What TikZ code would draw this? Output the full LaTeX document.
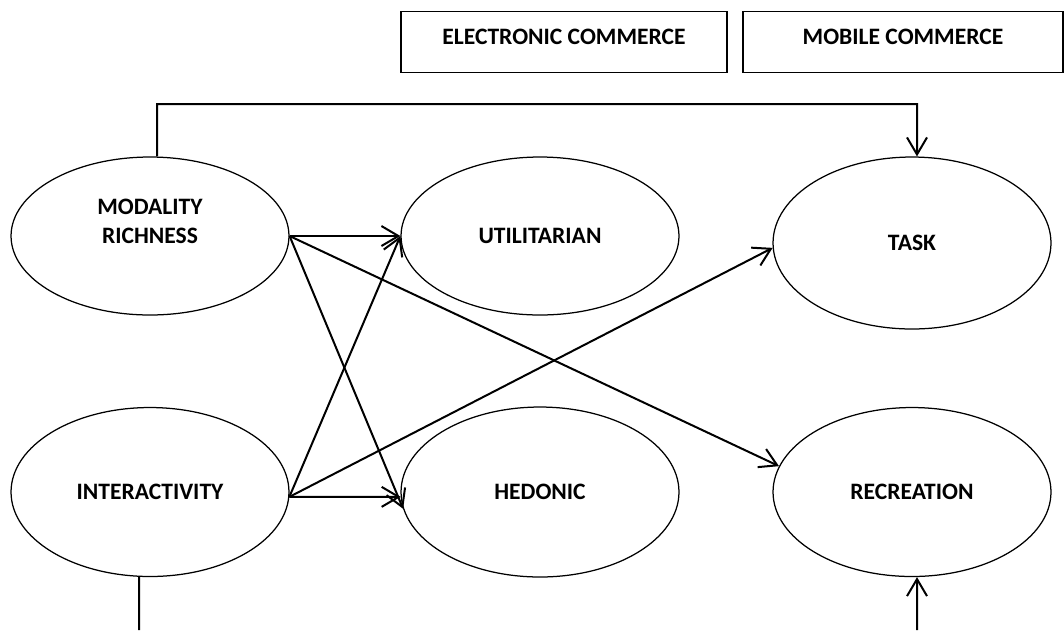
\documentclass[tikz,border=0pt]{standalone}
\usepackage{fontspec}
\setmainfont{Carlito}
\usepackage{tikz}
\usetikzlibrary{shapes.geometric}
\usetikzlibrary{arrows.meta}
\tikzstyle{construct} = [draw, ellipse, line width=0.25mm, inner sep=0pt, minimum width=5.56cm, align=center, font=\fontsize{13.4}{16.5}\selectfont\bfseries]
\tikzstyle{context} = [draw, rectangle, line width=0.3mm, inner sep=0pt, minimum height=1.22cm, text height=0.3cm, text depth=0.2cm, font=\fontsize{13.4}{16.5}\selectfont\bfseries]
\tikzstyle{link} = [-{Straight Barb[length=3.4mm,width=4mm]}, line width=0.4mm]

\begin{document}
\begin{tikzpicture}[x=0.02cm,y=-0.02cm]
                        \useasboundingbox (0,0) rectangle (1064,630);

                        \node[context, minimum width=6.52cm](EC) at (564,42) {ELECTRONIC COMMERCE};
                        \node[context, minimum width=6.4cm](MC) at (903,42) {MOBILE COMMERCE};

                        \node[construct, minimum height=3.16cm](MR) at (150,236) {MODALITY\\RICHNESS\\~};
                        \node[construct, minimum height=3.38cm](IN) at (150,492) {INTERACTIVITY};
                        \node[construct, minimum height=3.16cm](UT) at (540,236) {UTILITARIAN};
                        \node[construct, minimum height=3.4cm](HE) at (540,492) {HEDONIC};
                        \node[construct, minimum height=3.44cm](TA) at (912,243) {TASK};
                        \node[construct, minimum height=3.38cm](RE) at (912,492) {RECREATION};

                        \coordinate (TOP) at (917,104);
                        \coordinate (INB) at (139,630);
                        \coordinate (REB) at (917,630);

                        \draw[link](MR.east) -- (UT.west);
                        \draw[link](MR.east) -- (HE.187);
                        \draw[link](MR.east) -- (RE.169);
                        \draw[link](IN.358) -- (UT.west);
                        \draw[link](IN.358) -- (TA.182);
                        \draw[link](IN.358) -- (HE.182);

                        \draw[link]([xshift=0.14cm]MR.north) |- (TOP) -- ([xshift=0.1cm]TA.north);
                        \draw[line width=0.4mm]([xshift=-0.22cm]IN.south) -- (INB);
                        \draw[link](REB) -- ([xshift=0.1cm]RE.south);
                    \end{tikzpicture}
\end{document}
